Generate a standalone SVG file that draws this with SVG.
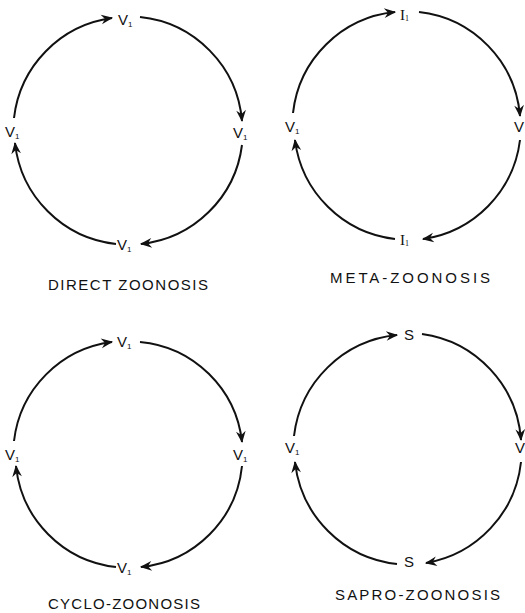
<svg xmlns="http://www.w3.org/2000/svg" width="525" height="613" viewBox="0 0 525 613">
<defs>
<marker id="ah" markerUnits="userSpaceOnUse" markerWidth="14" markerHeight="12" viewBox="-11 -5 13 10" refX="0" refY="0" orient="auto">
<path d="M1,0 L-10,-4.5 L-6.5,0 L-10,4.5 Z" fill="#111"/>
</marker>
<style>
.arc{fill:none;stroke:#111;stroke-width:2;marker-end:url(#ah)}
.lb{font-family:"Liberation Sans",Arial,sans-serif;font-size:15px;fill:#111}
.ls{font-family:"Liberation Serif","Times New Roman",serif;font-size:15px;fill:#111}
.sb{font-size:8px}
.tt{font-family:"Liberation Sans",Arial,sans-serif;font-size:15px;fill:#111}
</style>
</defs>
<rect width="525" height="613" fill="#fff"/>
<g id="connectors">
<path class="arc" d="M14,118 A114,114 0 0 1 112,18"/>
<path class="arc" d="M140,17 A114,114 0 0 1 242,121"/>
<path class="arc" d="M242,145 A114,114 0 0 1 141,244"/>
<path class="arc" d="M116,244 A114,114 0 0 1 15,143"/>

<path class="arc" d="M293,113 A114,114 0 0 1 395,12"/>
<path class="arc" d="M419,12 A114,114 0 0 1 520,116"/>
<path class="arc" d="M520,140 A114,114 0 0 1 423,239"/>
<path class="arc" d="M395,239 A114,114 0 0 1 295,140"/>

<path class="arc" d="M14,441 A113,113 0 0 1 112,342"/>
<path class="arc" d="M140,342 A113,113 0 0 1 242,442"/>
<path class="arc" d="M242,466 A113,113 0 0 1 141,567"/>
<path class="arc" d="M116,567 A113,113 0 0 1 16,466"/>

<path class="arc" d="M294,436 A115,115 0 0 1 397,335"/>
<path class="arc" d="M422,334 A115,115 0 0 1 521,440"/>
<path class="arc" d="M521,462 A115,115 0 0 1 426,563"/>
<path class="arc" d="M397,564 A115,115 0 0 1 295,462"/>
</g>
<g id="direct">
<text class="lb" x="118" y="25">V<tspan class="sb" dy="2">1</tspan></text>
<text class="lb" x="233" y="138">V<tspan class="sb" dy="2">1</tspan></text>
<text class="lb" x="117" y="250">V<tspan class="sb" dy="2">1</tspan></text>
<text class="lb" x="5" y="137">V<tspan class="sb" dy="2">1</tspan></text>
<text class="tt" x="48" y="290" textLength="160" lengthAdjust="spacing">DIRECT ZOONOSIS</text>
</g>
<g id="meta">
<text class="ls" x="400" y="20">I<tspan class="sb" dy="1">1</tspan></text>
<text class="lb" x="514" y="132">V</text>
<text class="ls" x="400" y="245">I<tspan class="sb" dy="1">1</tspan></text>
<text class="lb" x="285" y="132">V<tspan class="sb" dy="2">1</tspan></text>
<text class="tt" x="330" y="283" textLength="160" lengthAdjust="spacing">META-ZOONOSIS</text>
</g>
<g id="cyclo">
<text class="lb" x="117" y="347">V<tspan class="sb" dy="2">1</tspan></text>
<text class="lb" x="233" y="460">V<tspan class="sb" dy="2">1</tspan></text>
<text class="lb" x="117" y="573">V<tspan class="sb" dy="2">1</tspan></text>
<text class="lb" x="5" y="460">V<tspan class="sb" dy="2">1</tspan></text>
<text class="tt" x="48" y="609" textLength="152" lengthAdjust="spacing">CYCLO-ZOONOSIS</text>
</g>
<g id="sapro">
<text class="lb" x="404" y="340">S</text>
<text class="lb" x="515" y="453">V</text>
<text class="lb" x="404" y="567">S</text>
<text class="lb" x="285" y="453">V<tspan class="sb" dy="2">1</tspan></text>
<text class="tt" x="335" y="600" textLength="165" lengthAdjust="spacing">SAPRO-ZOONOSIS</text>
</g>
</svg>
